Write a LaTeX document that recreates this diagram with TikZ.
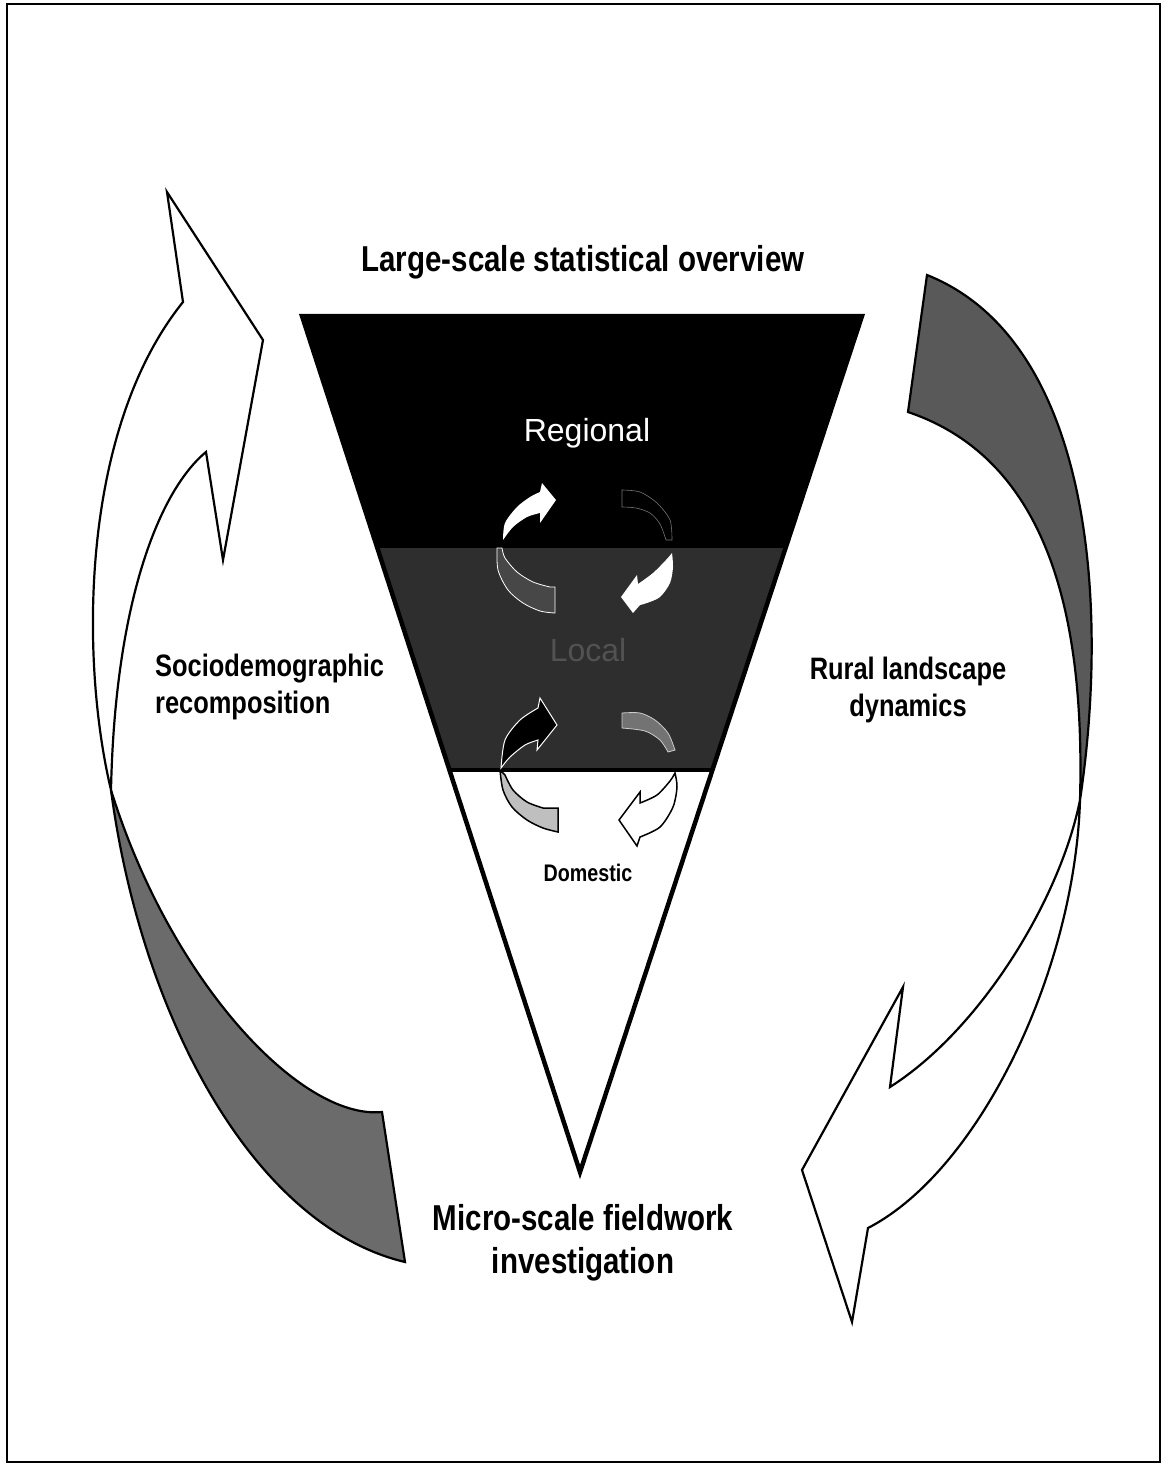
\documentclass[tikz,border=0pt]{standalone}
\usepackage{fontspec}
\setmainfont{Liberation Sans}
\newfontfamily\nar[FakeStretch=0.82]{Liberation Sans}
\begin{document}
\begin{tikzpicture}[x=1pt,y=-1pt,
  bigarrow/.style={draw=black, line width=2.2pt, line join=miter},
  lbl/.style={font={\nar\bfseries\fontsize{31}{37}\selectfont}, inner sep=0pt},
  biglbl/.style={font={\nar\bfseries\fontsize{36}{43}\selectfont}, inner sep=0pt, align=center},
  lvl/.style={font={\fontsize{32}{38}\selectfont}, inner sep=0pt}]
\useasboundingbox (0,0) rectangle (1166,1468);
\fill[white] (0,0) rectangle (1166,1468);
\draw[line width=2.5pt] (7,4) rectangle (1160,1462);

% ---------- big left arrow ----------
\coordinate (LX) at (111,790);
\coordinate (LA) at (183,302);
\coordinate (LT) at (167,192);
\coordinate (LB) at (263,340);
\coordinate (LP) at (223,560);
\coordinate (LQ) at (206,452);
\coordinate (LE1) at (405,1262);
\coordinate (LE2) at (382,1112);
\filldraw[bigarrow, fill=black!58] (LX) .. controls (140,1010) and (250,1225) .. (LE1) -- (LE2) .. controls (300,1120) and (170,980) .. (LX) -- cycle;
\filldraw[bigarrow, fill=white] (LA) -- (LT) -- (LB) -- (LP) -- (LQ) .. controls (160,490) and (115,600) .. (LX) .. controls (80,660) and (80,430) .. (LA) -- cycle;

% ---------- big right arrow ----------
\coordinate (RX) at (1080,800);
\coordinate (RE1) at (927,275);
\coordinate (RE2) at (908,412);
\coordinate (RN) at (890,1087);
\coordinate (RU) at (903,987);
\coordinate (RW) at (802,1170);
\coordinate (RT) at (852,1322);
\coordinate (RS) at (868,1228);
\filldraw[bigarrow, fill=black!65] (RE2) -- (RE1) .. controls (1090,340) and (1110,600) .. (RX) .. controls (1085,620) and (1050,460) .. (RE2) -- cycle;
\filldraw[bigarrow, fill=white] (RX) .. controls (1060,900) and (980,1030) .. (RN) -- (RU) -- (RW) -- (RT) -- (RS) .. controls (980,1170) and (1075,970) .. (RX) -- cycle;

% ---------- inverted triangle ----------
\fill[black] (302,316) -- (862,316) -- (786,548) -- (377,548) -- cycle;
\fill[black!82] (377,548) -- (786,548) -- (712,770) -- (449,770) -- cycle;
\draw[line width=4.5pt, line join=miter] (302,316) -- (862,316) -- (580,1172) -- cycle;
\draw[line width=4pt] (449,770) -- (712,770);

% ---------- top pair of circular arrows ----------
\filldraw[fill=black!72, draw=white, line width=0.8pt] plot[smooth] coordinates {(497,548) (498,570) (508,590) (523,603) (540,611) (555,613)} -- (555,587) -- plot[smooth] coordinates {(550,587) (533,582) (517,572) (505,558) (502,548)} -- cycle;
\filldraw[fill=black, draw=black!55, line width=0.6pt] plot[smooth] coordinates {(622,490) (640,492) (657,503) (670,520) (672,540)} -- plot[smooth] coordinates {(666,540) (660,524) (650,513) (636,508) (622,507)} -- cycle;
\fill[white] plot[smooth] coordinates {(503,540) (505,523) (517,507) (530,497) (540,492)} -- (542,483) -- (556,500) -- (540,523) -- (540,513) -- plot[smooth] coordinates {(540,513) (527,517) (513,527) (503,540)} -- cycle;
\fill[white] plot[smooth] coordinates {(672,553) (673,567) (670,583) (660,597) (647,603) (640,605)} -- (633,613) -- (621,597) -- (637,575) -- (638,584) -- plot[smooth] coordinates {(638,584) (653,573) (666,560) (672,553)} -- cycle;

% ---------- bottom pair of circular arrows ----------
\filldraw[fill=black!55, draw=white!80!black, line width=0.8pt] plot[smooth] coordinates {(622,713) (640,713) (655,720) (668,733) (675,750)} -- (668,752) -- plot[smooth] coordinates {(668,752) (660,740) (645,731) (622,728)} -- cycle;
\filldraw[fill=black!25, draw=black, line width=1.5pt] plot[smooth] coordinates {(500,770) (503,790) (512,807) (527,820) (543,828) (558,832)} -- (558,808) -- plot[smooth] coordinates {(543,808) (527,802) (513,790) (505,775)} -- cycle;
\filldraw[fill=black, draw=white, line width=1pt] plot[smooth] coordinates {(501,768) (505,740) (520,720) (538,708)} -- (540,698) -- (557,725) -- (537,750) -- (538,740) -- plot[smooth] coordinates {(538,740) (525,745) (510,757) (501,768)} -- cycle;
\filldraw[fill=white, draw=black, line width=1.5pt] plot[smooth] coordinates {(675,773) (677,787) (673,807) (660,827) (640,837)} -- (637,846) -- (619,820) -- (640,792) -- (640,803) -- plot[smooth] coordinates {(640,803) (657,795) (670,781) (675,773)} -- cycle;

% ---------- labels ----------
\node[biglbl] (top) at (583,262) {Large-scale statistical overview};
\node[biglbl] (bottom) at (583,1243) {Micro-scale fieldwork\\investigation};
\node[lvl, text=white] (regional) at (587,433) {Regional};
\node[lvl, text=black!68] (local) at (588,650) {Local};
\node[font={\nar\bfseries\fontsize{24}{28}\selectfont}, inner sep=0pt] (domestic) at (588,873) {Domestic};
\node[lbl, anchor=west, align=left] (socio) at (155,687) {Sociodemographic\\recomposition};
\node[lbl, align=center] (rural) at (908,690) {Rural landscape\\dynamics};
\end{tikzpicture}
\end{document}
